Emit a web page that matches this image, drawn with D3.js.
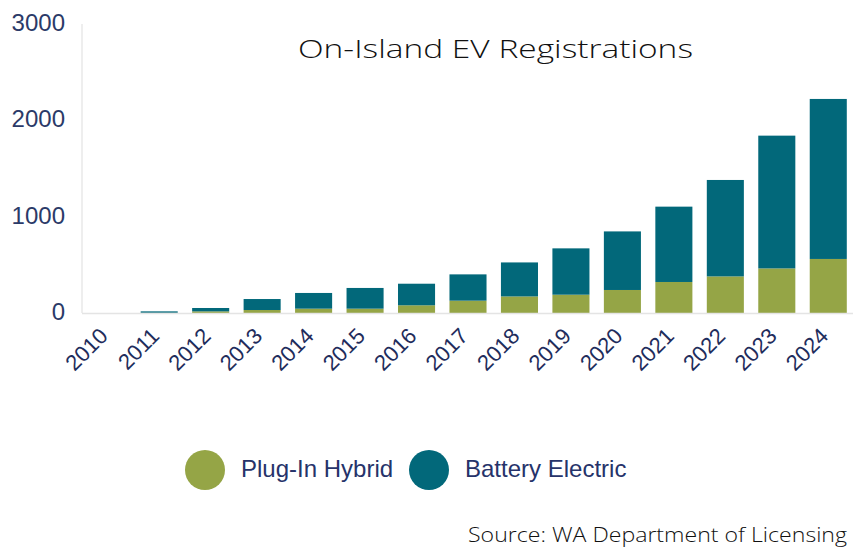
<!DOCTYPE html>
<html lang="en">
<head>
<meta charset="utf-8" />
<script src="https://cdn.jsdelivr.net/npm/d3@7"></script>
<style>
  body { margin: 0; background: #fff; }
  svg { display: block; }
</style>
</head>
<body>
<div id="chart"></div>
<script>
// data
const years = ["2010","2011","2012","2013","2014","2015","2016","2017","2018","2019","2020","2021","2022","2023","2024"];
const plugInHybrid = [0, 2, 17, 31, 45, 45, 80, 128, 172, 190, 239, 322, 380, 463, 561];
const batteryElectric = [0, 15, 35, 114, 163, 215, 224, 273, 353, 481, 608, 782, 1001, 1378, 1661];
const yTicks = [0, 1000, 2000, 3000];
const seriesNames = ["Plug-In Hybrid", "Battery Electric"];
const colors = ["#95a546", "#02687a"];

const width = 862, height = 548;
const svg = d3.select("#chart").append("svg")
  .attr("width", width)
  .attr("height", height);

const x = d3.scaleBand()
  .domain(years)
  .range([82, 854])
  .paddingInner(0.28)
  .paddingOuter(0.14);

const y = d3.scaleLinear()
  .domain([0, 3000])
  .range([313, 24]);

// stack the two series
const rows = years.map((yr, i) => ({year: yr, phev: plugInHybrid[i], bev: batteryElectric[i]}));
const stacked = d3.stack().keys(["phev", "bev"])(rows);

// axis lines
svg.append("line")
  .attr("x1", 82).attr("x2", 82)
  .attr("y1", y(3000)).attr("y2", y(0))
  .attr("stroke", "#e8e8e8").attr("stroke-width", 1.5);

svg.selectAll("g.series")
  .data(stacked)
  .join("g")
  .attr("class", "series")
  .attr("fill", (d, i) => colors[i])
  .selectAll("rect")
  .data(d => d)
  .join("rect")
  .attr("x", d => x(d.data.year))
  .attr("width", x.bandwidth())
  .attr("y", d => y(d[1]))
  .attr("height", d => y(d[0]) - y(d[1]));

svg.append("line")
  .attr("x1", 82).attr("x2", 853)
  .attr("y1", y(0) + 0.5).attr("y2", y(0) + 0.5)
  .attr("stroke", "#e4e4e4").attr("stroke-width", 1.5);

// y tick labels
svg.selectAll("text.ytick")
  .data(yTicks)
  .join("text")
  .attr("class", "ytick")
  .attr("x", 65)
  .attr("y", d => y(d) - 1.5)
  .attr("dy", "0.35em")
  .attr("text-anchor", "end")
  .attr("font-family", "Liberation Sans, Arial, sans-serif")
  .attr("font-size", 24)
  .attr("fill", "#2b3a68")
  .text(d => d);

// x tick labels, rotated
svg.selectAll("text.xtick")
  .data(years)
  .join("text")
  .attr("class", "xtick")
  .attr("transform", d => `translate(${x(d) + x.bandwidth() / 2 - 4},332) rotate(-45)`)
  .attr("dy", "0.35em")
  .attr("text-anchor", "end")
  .attr("font-family", "Liberation Sans, Arial, sans-serif")
  .attr("font-size", 22)
  .attr("fill", "#1f2d5c")
  .text(d => d);

// title
svg.append("text")
  .attr("x", 298).attr("y", 58)
  .attr("font-family", "Open Sans, sans-serif")
  .attr("font-weight", 350)
  .attr("font-size", 26)
  .attr("fill", "#111")
  .attr("textLength", 395)
  .attr("lengthAdjust", "spacingAndGlyphs")
  .text("On-Island EV Registrations");

// legend
const legendX = [205, 429];
const legend = svg.selectAll("g.legend")
  .data(seriesNames)
  .join("g")
  .attr("class", "legend")
  .attr("transform", (d, i) => `translate(${legendX[i]},470)`);
legend.append("circle")
  .attr("r", 20)
  .attr("fill", (d, i) => colors[i]);
legend.append("text")
  .attr("x", 36)
  .attr("y", 7)
  .attr("font-family", "Liberation Sans, Arial, sans-serif")
  .attr("font-size", 24)
  .attr("fill", "#26336a")
  .text(d => d);

// source note
svg.append("text")
  .attr("x", 847).attr("y", 542)
  .attr("text-anchor", "end")
  .attr("font-family", "Open Sans, sans-serif")
  .attr("font-weight", 350)
  .attr("font-size", 21)
  .attr("fill", "#111")
  .attr("textLength", 379)
  .attr("lengthAdjust", "spacingAndGlyphs")
  .text("Source: WA Department of Licensing");
</script>
</body>
</html>
